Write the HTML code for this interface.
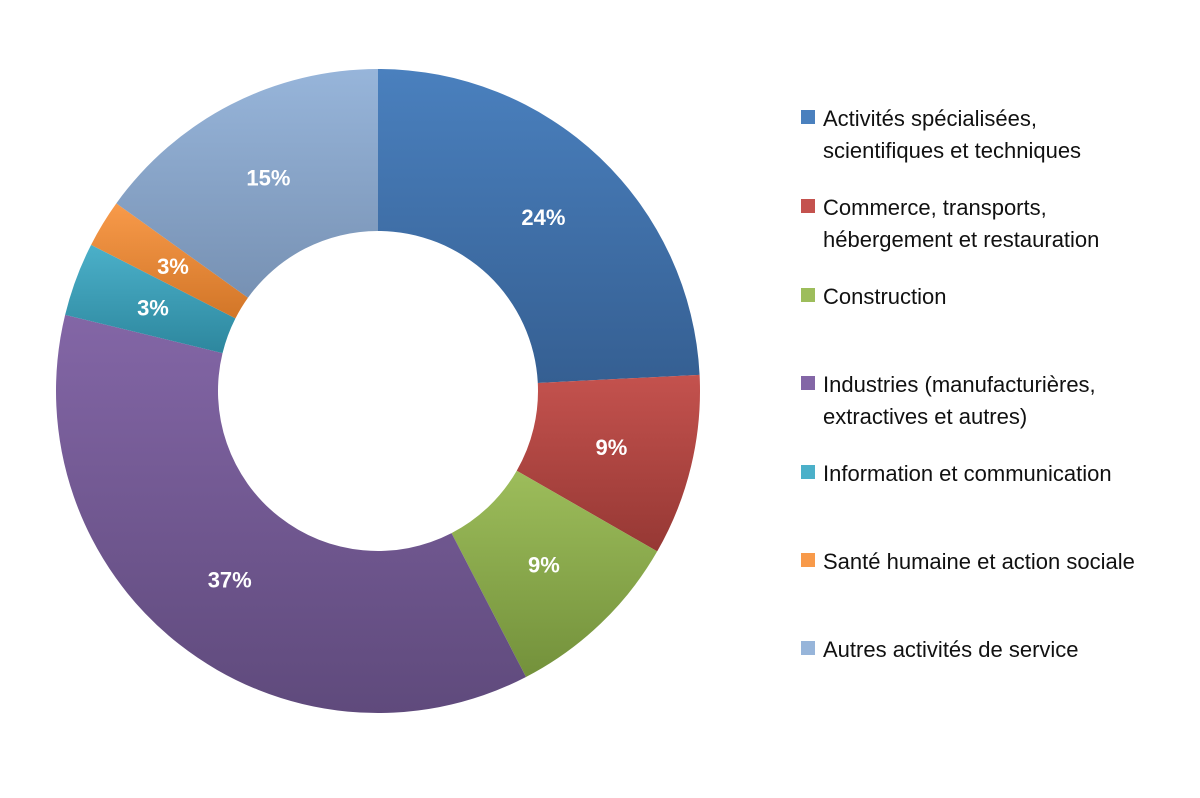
<!DOCTYPE html>
<html><head><meta charset="utf-8"><style>
body{margin:0;background:#fff;width:1200px;height:793px;overflow:hidden;font-family:"Liberation Sans",sans-serif}
</style></head><body>
<svg id="chart" width="1200" height="793" xmlns="http://www.w3.org/2000/svg">
<defs id="defs"></defs>
<g id="slices"></g>
<g id="labels"></g>
<g id="legend"></g>
</svg>
<script>
const categories=[["Activités spécialisées,","scientifiques et techniques"],["Commerce, transports,","hébergement et restauration"],["Construction"],["Industries (manufacturières,","extractives et autres)"],["Information et communication"],["Santé humaine et action sociale"],["Autres activités de service"]];
const values=[24.2,9.1,9.1,36.4,3.7,2.4,15.1];
const valueLabels=["24%","9%","9%","37%","3%","3%","15%"];
const colorsTop=["#4a80be","#c4524e","#9dbd5b","#8366a6","#4bb0c9","#f89a4a","#97b5da"];
const colorsBot=["#355f92","#963834","#73913b","#5f4a7c","#2d879e","#d27628","#7791b3"];
const legendY=[[126,158],[215,247],[304],[392,424],[481],[569],[657]];
const cx=378,cy=391,R=322,r=160,LR=240;
const NS="http://www.w3.org/2000/svg";
const total=values.reduce((a,b)=>a+b,0);
function pt(frac,rad){const a=frac*2*Math.PI;return [cx+rad*Math.sin(a),cy-rad*Math.cos(a)];}
const defs=document.getElementById('defs'),gS=document.getElementById('slices'),gL=document.getElementById('labels'),gG=document.getElementById('legend');
let cum=0;
values.forEach((v,i)=>{
  const s=cum/total,e=(cum+v)/total;cum+=v;
  const lg=document.createElementNS(NS,'linearGradient');
  lg.setAttribute('id','g'+i);lg.setAttribute('x1','0');lg.setAttribute('y1','0');lg.setAttribute('x2','0');lg.setAttribute('y2','1');
  lg.innerHTML=`<stop offset="0" stop-color="${colorsTop[i]}"/><stop offset="1" stop-color="${colorsBot[i]}"/>`;
  defs.appendChild(lg);
  const [x1,y1]=pt(s,R),[x2,y2]=pt(e,R),[x3,y3]=pt(e,r),[x4,y4]=pt(s,r);
  const large=(e-s)>0.5?1:0;
  const p=document.createElementNS(NS,'path');
  p.setAttribute('d',`M${x1},${y1}A${R},${R} 0 ${large} 1 ${x2},${y2}L${x3},${y3}A${r},${r} 0 ${large} 0 ${x4},${y4}Z`);
  p.setAttribute('fill',`url(#g${i})`);
  
  
  gS.appendChild(p);
  const [lx,ly]=pt((s+e)/2,LR);
  const t=document.createElementNS(NS,'text');
  t.setAttribute('x',lx);t.setAttribute('y',ly+8);t.setAttribute('text-anchor','middle');
  t.setAttribute('fill','#fff');t.setAttribute('font-weight','bold');t.setAttribute('font-size','22');
  t.textContent=valueLabels[i];
  
  
  gL.appendChild(t);
  const g=document.createElementNS(NS,'g');
  
  
  const rc=document.createElementNS(NS,'rect');
  rc.setAttribute('x',801);rc.setAttribute('y',legendY[i][0]-16);rc.setAttribute('width',14);rc.setAttribute('height',14);
  rc.setAttribute('fill',colorsTop[i]);
  g.appendChild(rc);
  categories[i].forEach((line,j)=>{
    const tt=document.createElementNS(NS,'text');
    tt.setAttribute('x',823);tt.setAttribute('y',legendY[i][j]);tt.setAttribute('font-size','22');tt.setAttribute('fill','#111');
    tt.textContent=line;g.appendChild(tt);
  });
  gG.appendChild(g);
});
</script>
</body></html>
